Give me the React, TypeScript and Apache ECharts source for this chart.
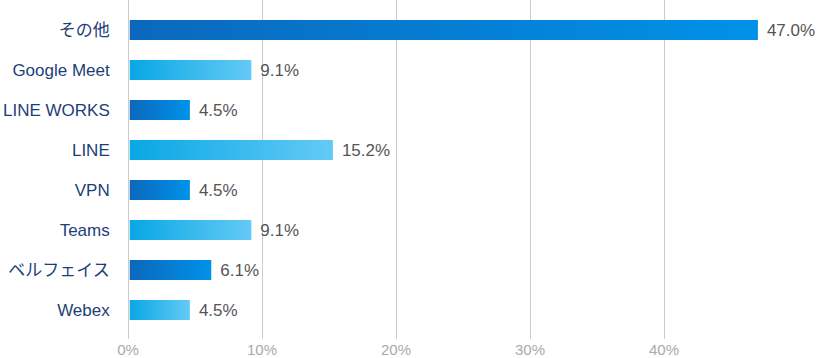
import React, { useEffect, useRef } from "react";
import * as echarts from "echarts";

const categories = ["その他", "Google Meet", "LINE WORKS", "LINE", "VPN", "Teams", "ベルフェイス", "Webex"];
const values = [47.0, 9.1, 4.5, 15.2, 4.5, 9.1, 6.1, 4.5];
const tickValues = [0, 10, 20, 30, 40];

const darkGrad = () =>
  new echarts.graphic.LinearGradient(0, 0, 1, 0, [
    { offset: 0, color: "#0a68bd" },
    { offset: 1, color: "#0092e8" },
  ]);
const lightGrad = () =>
  new echarts.graphic.LinearGradient(0, 0, 1, 0, [
    { offset: 0, color: "#08a7e5" },
    { offset: 1, color: "#64caf6" },
  ]);

export default function App() {
  const ref = useRef<HTMLDivElement>(null);
  useEffect(() => {
    if (!ref.current) return;
    const chart = echarts.init(ref.current, undefined, { renderer: "svg" });
    const font = "'Liberation Sans', 'Noto Sans CJK JP', sans-serif";
    const axisMax = 50;
    chart.setOption({
      animation: false,
      grid: [
        { left: 128, right: 27, top: 10, height: 320, containLabel: false },
        { left: 128, right: 27, top: 0, height: 339, containLabel: false },
      ],
      xAxis: [
        {
          type: "value",
          gridIndex: 0,
          min: 0,
          max: axisMax,
          interval: 10,
          show: false,
        },
        {
          type: "value",
          gridIndex: 1,
          min: 0,
          max: axisMax,
          interval: 10,
          axisLine: { show: false },
          axisTick: { show: false },
          splitLine: {
            show: true,
            lineStyle: { color: ["#cccccc", "#cccccc", "#cccccc", "#cccccc", "#cccccc", "rgba(0,0,0,0)"], width: 1 },
          },
          axisLabel: {
            color: "#aaaaaa",
            fontSize: 15,
            fontFamily: font,
            margin: 3,
            formatter: (v: number) => (tickValues.includes(v) ? v + "%" : ""),
          },
        },
      ],
      yAxis: [
        {
          type: "category",
          gridIndex: 0,
          data: categories,
          inverse: true,
          axisLine: { show: false },
          axisTick: { show: false },
          splitLine: { show: false },
          axisLabel: { color: "#1d3f78", fontSize: 17, fontFamily: font, margin: 20 },
        },
        {
          type: "category",
          gridIndex: 1,
          data: [],
          show: false,
        },
      ],
      series: [
        {
          type: "bar",
          xAxisIndex: 0,
          yAxisIndex: 0,
          barWidth: 20,
          data: values.map((v, i) => ({
            value: v,
            itemStyle: { color: i % 2 === 0 ? darkGrad() : lightGrad() },
          })),
          label: {
            show: true,
            position: "right",
            distance: 9,
            color: "#555555",
            fontSize: 17,
            fontFamily: font,
            formatter: (p: any) => p.value.toFixed(1) + "%",
          },
        },
      ],
    });
    return () => chart.dispose();
  }, []);
  return <div ref={ref} style={{ width: 825, height: 358, position: "absolute", left: 0, top: 0 }} />;
}
